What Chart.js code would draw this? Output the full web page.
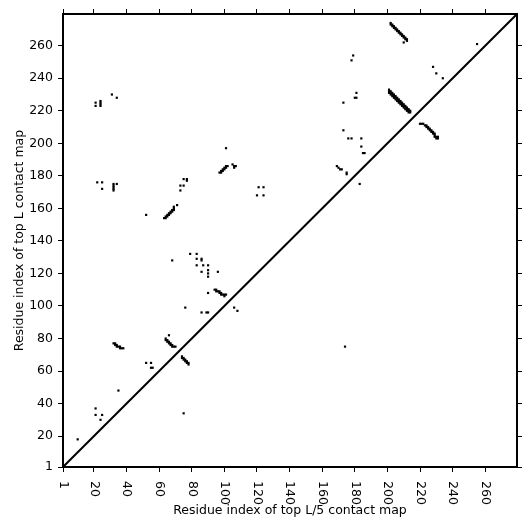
<!DOCTYPE html>
<html>
<head>
<meta charset="utf-8">
<script src="https://cdn.jsdelivr.net/npm/chart.js@4"></script>
<style>
  html, body { margin: 0; padding: 0; background: #fff; }
  canvas { display: block; }
</style>
</head>
<body>
<canvas id="contactChart" width="531" height="531"></canvas>
<script>
// axis range and ticks (residue index)
const axisMin = 1;
const axisMax = 279.5;
const tickValues = [1, 20, 40, 60, 80, 100, 120, 140, 160, 180, 200, 220, 240, 260];

// predicted contacts: residue i (x) and residue j (y)
const contactX = [
    10, 21, 21, 25, 24, 35, 52, 55, 55, 56, 75,
    32, 33, 33, 34, 34, 35, 36, 36, 37, 38,
    64, 64, 65, 65, 66, 66, 67, 67, 68, 68, 69, 70, 66,
    74, 74, 75, 75, 76, 76, 77, 77, 78, 78,
    76, 86, 89, 90, 106, 108, 174, 90,
    94, 95, 95, 96, 97, 97, 98, 98, 99, 100, 100, 101,
    68, 79, 83, 83, 86, 86, 83, 87, 90, 86, 90, 90, 90, 96,
    52, 63, 64, 64, 65, 65, 66, 66, 67, 67, 68, 68, 69, 69, 69, 71,
    73, 75, 73, 75, 77, 77, 22, 25, 25,
    32, 32, 32, 32, 32, 34,
    97, 98, 98, 99, 99, 100, 100, 101, 101, 102, 105, 106, 107, 106,
    121, 124, 120, 124,
    169, 170, 171, 172, 175, 175, 183, 184, 184, 185, 186,
    101, 173, 176, 178, 173, 180, 181, 181, 178, 179,
    21, 21, 24, 24, 24, 24, 31, 34,
    201, 201, 201, 202, 202, 202, 203, 203, 203, 204, 204, 204, 205, 205, 205,
    206, 206, 206, 207, 207, 207, 208, 208, 208, 209, 209, 209, 210, 210, 210,
    211, 211, 211, 212, 212, 212, 213, 213, 213, 214, 214,
    202, 202, 203, 203, 204, 204, 205, 205, 206, 206, 207, 207, 208, 208,
    209, 209, 210, 210, 211, 211, 212, 212, 210,
    220, 221, 222, 223, 224, 224, 225, 225, 226, 226, 227, 227, 228, 228,
    229, 229, 229, 230, 231, 230, 231,
    228, 230, 234, 255
];
const contactY = [
    18, 37, 33, 33, 30, 48, 65, 65, 62, 62, 34,
    77, 77, 76, 76, 75, 75, 75, 74, 74, 74,
    80, 79, 79, 78, 78, 77, 77, 76, 76, 75, 75, 75, 82,
    69, 68, 68, 67, 67, 66, 66, 65, 65, 64,
    99, 96, 96, 96, 99, 97, 75, 108,
    110, 110, 109, 109, 108, 109, 108, 107, 107, 107, 106, 107,
    128, 132, 132, 129, 129, 128, 125, 125, 125, 121, 122, 120, 118, 121,
    156, 154, 154, 155, 155, 156, 156, 157, 157, 158, 158, 159, 159, 160, 161, 162,
    174, 174, 171, 178, 178, 177, 176, 176, 172,
    171, 172, 173, 174, 175, 175,
    182, 182, 183, 183, 184, 184, 185, 185, 186, 186, 187, 186, 186, 185,
    173, 173, 168, 168,
    186, 185, 184, 184, 182, 181, 175, 203, 198, 194, 194,
    197, 208, 203, 203, 225, 228, 228, 231, 251, 254,
    223, 225, 223, 224, 225, 226, 230, 228,
    233, 232, 231, 232, 231, 230, 231, 230, 229, 230, 229, 228, 229, 228, 227,
    228, 227, 226, 227, 226, 225, 226, 225, 224, 225, 224, 223, 224, 223, 222,
    223, 222, 221, 222, 221, 220, 221, 220, 219, 220, 219,
    274, 273, 273, 272, 272, 271, 271, 270, 270, 269, 269, 268, 268, 267,
    267, 266, 266, 265, 265, 264, 264, 263, 262,
    212, 212, 212, 211, 210, 211, 209, 210, 208, 209, 207, 208, 206, 207,
    204, 205, 206, 204, 204, 203, 203,
    247, 243, 240, 261
];

// identity line
const diagonalX = [1, 279.5];
const diagonalY = [1, 279.5];

const contacts = contactX.map((x, i) => ({ x: x, y: contactY[i] }));
const diagonal = diagonalX.map((x, i) => ({ x: x, y: diagonalY[i] }));

Chart.defaults.font.family = '"DejaVu Sans", sans-serif';
Chart.defaults.font.size = 12.5;
Chart.defaults.color = '#000';

const setTicks = scale => { scale.ticks = tickValues.map(v => ({ value: v })); };

function axis(position, extra) {
    return Object.assign({
        type: 'linear',
        position: position,
        min: axisMin,
        max: axisMax,
        afterBuildTicks: setTicks,
        grid: { drawOnChartArea: false, drawTicks: true, tickLength: 5, tickWidth: 1, tickColor: '#000' },
        border: { display: true, color: '#000', width: 2 },
        ticks: { display: false }
    }, extra);
}

// x tick labels read top-to-bottom in the reference, so draw them here
const xLabels = {
    id: 'xLabels',
    afterDraw(chart) {
        const ctx = chart.ctx;
        const scale = chart.scales.x;
        ctx.save();
        ctx.font = '12.5px "DejaVu Sans"';
        ctx.fillStyle = '#000';
        ctx.textAlign = 'left';
        ctx.textBaseline = 'middle';
        tickValues.forEach(v => {
            const px = scale.getPixelForValue(v);
            ctx.save();
            ctx.translate(px, scale.top + 14);
            ctx.rotate(Math.PI / 2);
            ctx.fillText(String(v), 0, 0);
            ctx.restore();
        });
        ctx.restore();
    }
};

new Chart(document.getElementById('contactChart'), {
    type: 'scatter',
    data: {
        datasets: [{
            data: contacts,
            pointStyle: 'rect',
            pointRadius: 1.55,
            borderWidth: 0,
            backgroundColor: '#000'
        }, {
            type: 'line',
            data: diagonal,
            borderColor: '#000',
            borderWidth: 2,
            pointRadius: 0,
            fill: false
        }]
    },
    options: {
        responsive: false,
        animation: false,
        layout: { padding: 0 },
        plugins: { legend: { display: false }, tooltip: { enabled: false } },
        scales: {
            x: axis('bottom', {
                afterFit: s => { s.height = 64; },
                title: { display: true, text: 'Residue index of top L/5 contact map', padding: { top: 0, bottom: 12.5 } }
            }),
            y: axis('left', {
                afterFit: s => { s.width = 63; },
                ticks: { display: true, padding: 5, callback: v => String(v) },
                title: { display: true, text: 'Residue index of top L contact map', padding: { top: 12, bottom: 0 } }
            }),
            x2: axis('top', { afterFit: s => { s.height = 14; } }),
            y2: axis('right', { afterFit: s => { s.width = 14; } })
        }
    },
    plugins: [xLabels]
});
</script>
</body>
</html>
